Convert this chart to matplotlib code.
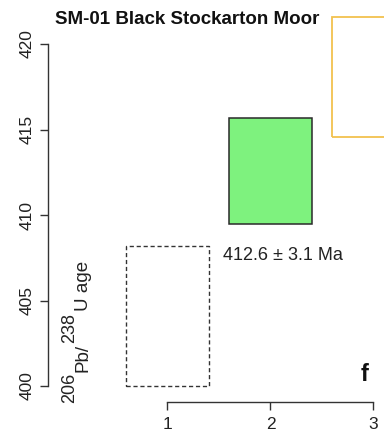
import numpy as np
import matplotlib
matplotlib.use('Agg')
import matplotlib.pyplot as plt
from matplotlib.patches import Rectangle

plt.rcParams['font.family'] = ['Liberation Sans', 'DejaVu Sans']

# Данные: позиции групп, возраст и погрешность (Ma)
positions = [1, 2, 3]
ages = [404.1, 412.6, 418.05]
errors = [4.1, 3.1, 3.5]
age_label = '412.6 ± 3.1 Ma'
title = 'SM-01 Black Stockarton Moor'
panel = 'f'
yticks = [400, 405, 410, 415, 420]
xticks = [1, 2, 3]

# Подпись оси Y по частям: (текст, верхний индекс?)
ylabel_parts = [('206', True), ('Pb/', False), ('238', True), ('U age', False)]

# Стили прямоугольников
half_width = 0.4
facecolors = ['none', '#7ef27e', 'none']
edgecolors = ['#333333', '#2a2a2a', '#f2c14e']
linestyles = [(0, (3, 2)), '-', '-']
linewidths = [1.0, 1.1, 1.3]

W, H = 384, 440
fig = plt.figure(figsize=(W / 100, H / 100), dpi=100)
ax = fig.add_axes([48 / W, 38.5 / H, 336 / W, 401.5 / H])

for x, a, e, fc, ec, ls, lw in zip(positions, ages, errors, facecolors,
                                   edgecolors, linestyles, linewidths):
    ax.add_patch(Rectangle((x - half_width, a - e), 2 * half_width, 2 * e,
                           facecolor=fc, edgecolor=ec, linestyle=ls, linewidth=lw))

ax.set_xlim(-0.160, 3.102)
ax.set_ylim(399.094, 422.573)

for s in ['top', 'right']:
    ax.spines[s].set_visible(False)
ax.spines['left'].set_bounds(yticks[0], yticks[-1])
ax.spines['bottom'].set_bounds(xticks[0], xticks[-1])
for s in ['left', 'bottom']:
    ax.spines[s].set_color('#333333')
    ax.spines[s].set_linewidth(1.0)

ax.set_yticks(yticks)
ax.set_yticklabels([str(t) for t in yticks], rotation=90, va='center')
ax.set_xticks(xticks)
ax.tick_params(axis='both', length=5.5, width=1.0, color='#333333',
               labelsize=12.5, labelcolor='#222222')
ax.tick_params(axis='y', pad=4)
ax.tick_params(axis='x', pad=6)
ax.patch.set_visible(False)

ax.text(1.536, 407.37, age_label, fontsize=13, color='#222222',
        ha='left', va='baseline')
ax.text(2.876, 400.31, panel, fontsize=17, fontweight='bold',
        ha='left', va='baseline', color='#111111')

# подпись оси Y собирается из кусков снизу вверх (пиксели от верха)
part_starts = [403, 372, 343, 311]
for (txt, sup), y_px in zip(ylabel_parts, part_starts):
    x_px = 74.0 if sup else 87.5
    fig.text(x_px / W, (H - y_px) / H, txt, fontsize=13 if sup else 13.5,
             rotation=90, rotation_mode='anchor', ha='left',
             va='baseline', color='#222222')

fig.text(55 / W, (H - 24) / H, title, fontsize=13.5, fontweight='bold',
         ha='left', va='baseline', color='#111111')

fig.savefig('out.png', dpi=100)
